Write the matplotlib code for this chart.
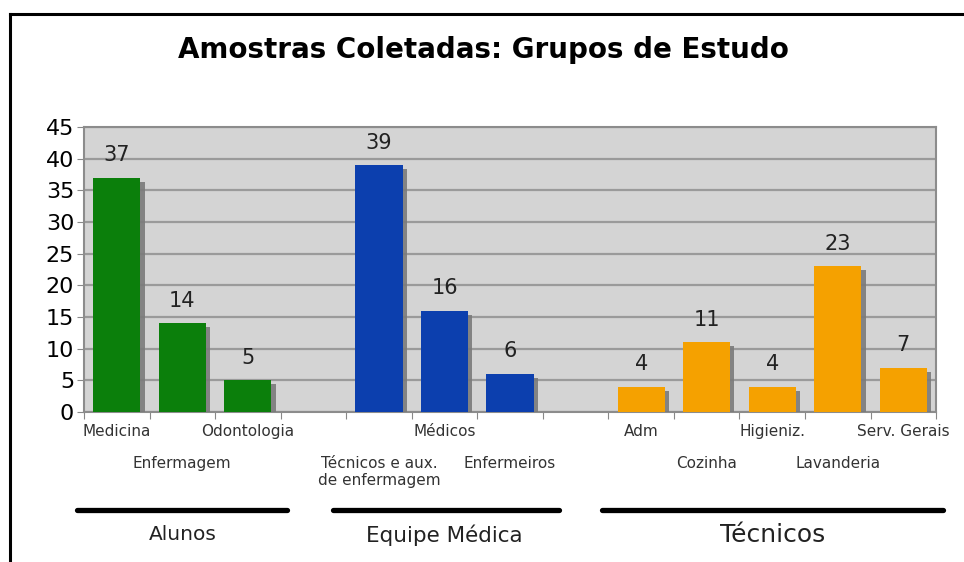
import matplotlib.pyplot as plt
import matplotlib.patheffects as pe
import matplotlib.transforms as mtransforms
from matplotlib.lines import Line2D

# data
labels = ['Medicina', 'Enfermagem', 'Odontologia',
          'Técnicos e aux.\nde enfermagem', 'Médicos', 'Enfermeiros',
          'Adm', 'Cozinha', 'Higieniz.', 'Lavanderia', 'Serv. Gerais']
values = [37, 14, 5, 39, 16, 6, 4, 11, 4, 23, 7]
positions = [0, 1, 2, 4, 5, 6, 8, 9, 10, 11, 12]
groups = ['Alunos', 'Equipe Médica', 'Técnicos']
group_members = [[0, 1, 2], [3, 4, 5], [6, 7, 8, 9, 10]]
group_colors = ['#0b7f0b', '#0c3fae', '#f5a100']
group_fontsize = [14.5, 15.5, 18]
group_pad = [(0.6, 0.6), (0.7, 0.75), (0.6, 0.6)]

fig = plt.figure(figsize=(9.64, 5.62), dpi=100, facecolor='white')
ax = fig.add_axes([0.0871, 0.267, 0.884, 0.507])
ax.set_facecolor('#d4d4d4')

shadow = [pe.SimplePatchShadow(offset=(3, -3), shadow_rgbFace='#7a7a7a', alpha=0.9), pe.Normal()]
for g, members in enumerate(group_members):
    xs = [positions[i] for i in members]
    ys = [values[i] for i in members]
    bars = ax.bar(xs, ys, width=0.72, color=group_colors[g], zorder=3)
    for b in bars:
        b.set_path_effects(shadow)
    for x, y in zip(xs, ys):
        ax.annotate(str(y), (x, y), xytext=(0, 9), textcoords='offset points',
                    ha='center', va='bottom', fontsize=15, color='#222222')

ax.set_xlim(-0.5, 12.5)
ax.set_ylim(0, 45)
ax.set_yticks(range(0, 46, 5))
ax.yaxis.grid(True, color='#9a9a9a', lw=1.6, zorder=0)
ax.set_axisbelow(True)
ax.tick_params(axis='y', labelsize=16, length=5, color='#888888', pad=2)
ax.set_xticks([p - 0.5 for p in range(14)])
ax.set_xticklabels([])
ax.tick_params(axis='x', length=5, color='#888888')
for s in ax.spines.values():
    s.set_color('#8c8c8c')
    s.set_linewidth(1.5)

# staggered category labels
for k, (x, lab) in enumerate(zip(positions, labels)):
    if k % 2 == 0:
        dy, va = -20, 'center'
    elif '\n' in lab:
        dy, va = -44, 'top'
    else:
        dy, va = -52, 'center'
    ax.annotate(lab, (x, 0), xycoords=('data', 'axes fraction'),
                xytext=(0, dy * 0.72), textcoords='offset points',
                ha='center', va=va, fontsize=11, color='#333333',
                annotation_clip=False, linespacing=1.15)

# group bars and names
line_shift = mtransforms.ScaledTranslation(0, -0.98, fig.dpi_scale_trans)
for g, members in enumerate(group_members):
    xs = [positions[i] for i in members]
    ax.add_line(Line2D([xs[0] - group_pad[g][0], xs[-1] + group_pad[g][1]], [0, 0],
                       color='black', lw=3.8, solid_capstyle='round', clip_on=False,
                       transform=ax.get_xaxis_transform() + line_shift))
    ax.annotate(groups[g], ((xs[0] + xs[-1]) / 2, 0), xycoords=('data', 'axes fraction'),
                xytext=(0, -123 * 0.72), textcoords='offset points',
                ha='center', va='center', fontsize=group_fontsize[g], color='#222222',
                annotation_clip=False)

fig.text(0.501, 0.911, 'Amostras Coletadas: Grupos de Estudo', ha='center', va='center',
         fontsize=20, fontweight='bold', color='black')

# outer frame (top and left)
fig.add_artist(Line2D([0.0104, 1.0], [0.975, 0.975], color='black', lw=2.2))
fig.add_artist(Line2D([0.0104, 0.0104], [0.0, 0.975], color='black', lw=2.2))

fig.savefig('out.png', dpi=100)
